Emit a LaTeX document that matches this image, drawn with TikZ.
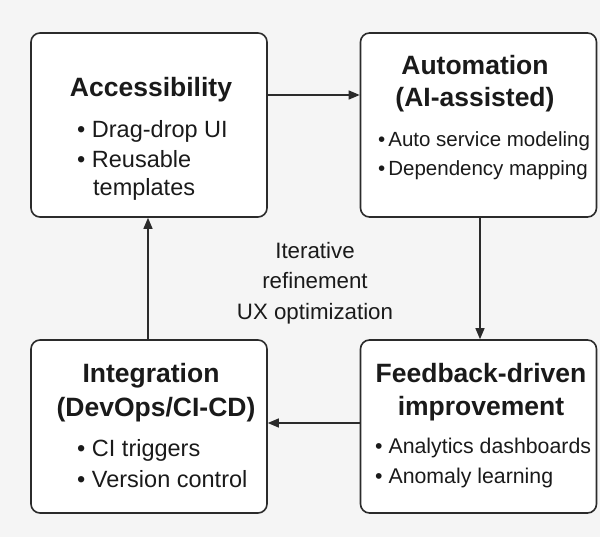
\documentclass[tikz,border=0pt]{standalone}
\usepackage{fontspec}
\setmainfont{Liberation Sans}
\usetikzlibrary{arrows.meta}

\definecolor{bgcol}{HTML}{F5F5F5}
\definecolor{linecol}{HTML}{2B2B2B}
\definecolor{textcol}{HTML}{1A1A1A}

\tikzset{
    box/.style={draw=linecol, line width=1.6pt, fill=white, rounded corners=9pt,
        minimum width=236pt, inner sep=0pt},
    title/.style={font=\fontsize{26.5}{30}\selectfont\bfseries, text=textcol, anchor=base, inner sep=0pt},
    bigitem/.style={font=\fontsize{23.5}{28}\selectfont, text=textcol, anchor=base west, inner sep=0pt},
    smallitem/.style={font=\fontsize{20.5}{28}\selectfont, text=textcol, anchor=base west, inner sep=0pt},
    flow/.style={draw=linecol, line width=1.3pt, -{Triangle[length=11pt,width=9pt]}}
}

\begin{document}
\begin{tikzpicture}[x=1pt, y=-1pt]
    % Background
    \useasboundingbox (0,0) rectangle (600,537);
    \fill[bgcol] (0,0) rectangle (600,537);

    % Boxes
    \node[box, minimum height=184pt] (acc) at (149,125) {};
    \node[box, minimum height=184pt] (auto) at (478.5,125) {};
    \node[box, minimum height=173pt] (integ) at (149,426.5) {};
    \node[box, minimum height=173pt] (feed) at (478.5,426.5) {};

    % Accessibility
    \node[title] (acct) at (151,97) {Accessibility};
    \node[bigitem] (acc1) at (77,138) {\textbullet\ Drag-drop UI};
    \node[bigitem] (acc2) at (77,168) {\textbullet\ Reusable};
    \node[bigitem] (acc3) at (93,196) {templates};

    % Automation
    \node[title] (autot1) at (475,75) {Automation};
    \node[title] (autot2) at (475,107) {(AI-assisted)};
    \node[smallitem] (auto1) at (378,147) {\textbullet\kern3pt Auto service modeling};
    \node[smallitem] (auto2) at (378,176) {\textbullet\kern3pt Dependency mapping};

    % Integration
    \node[title] (integt1) at (151,383) {Integration};
    \node[title] (integt2) at (156,417) {(DevOps/CI-CD)};
    \node[bigitem] (integ1) at (77,456) {\textbullet\ CI triggers};
    \node[bigitem] (integ2) at (77,487) {\textbullet\ Version control};

    % Feedback
    \node[title] (feedt1) at (481,383) {Feedback-driven};
    \node[title] (feedt2) at (481,415) {improvement};
    \node[smallitem, font=\fontsize{21.3}{28}\selectfont] (feed1) at (375,453) {\textbullet\ Analytics dashboards};
    \node[smallitem, font=\fontsize{21.3}{28}\selectfont] (feed2) at (375,483) {\textbullet\ Anomaly learning};

    % Cycle label
    \node[font=\fontsize{22.3}{30.5}\selectfont, text=textcol, align=center, inner sep=0pt]
        (loop) at (315,283) {Iterative\\refinement\\UX optimization};

    % Connectors
    \draw[flow] ([yshift=30pt]acc.east) -- ([yshift=30pt]auto.west);
    \draw[flow] ([xshift=1.5pt]auto.south) -- ([xshift=1.5pt]feed.north);
    \draw[flow] ([yshift=3.5pt]feed.west) -- ([yshift=3.5pt]integ.east);
    \draw[flow] ([xshift=-1pt]integ.north) -- ([xshift=-1pt]acc.south);
\end{tikzpicture}
\end{document}
